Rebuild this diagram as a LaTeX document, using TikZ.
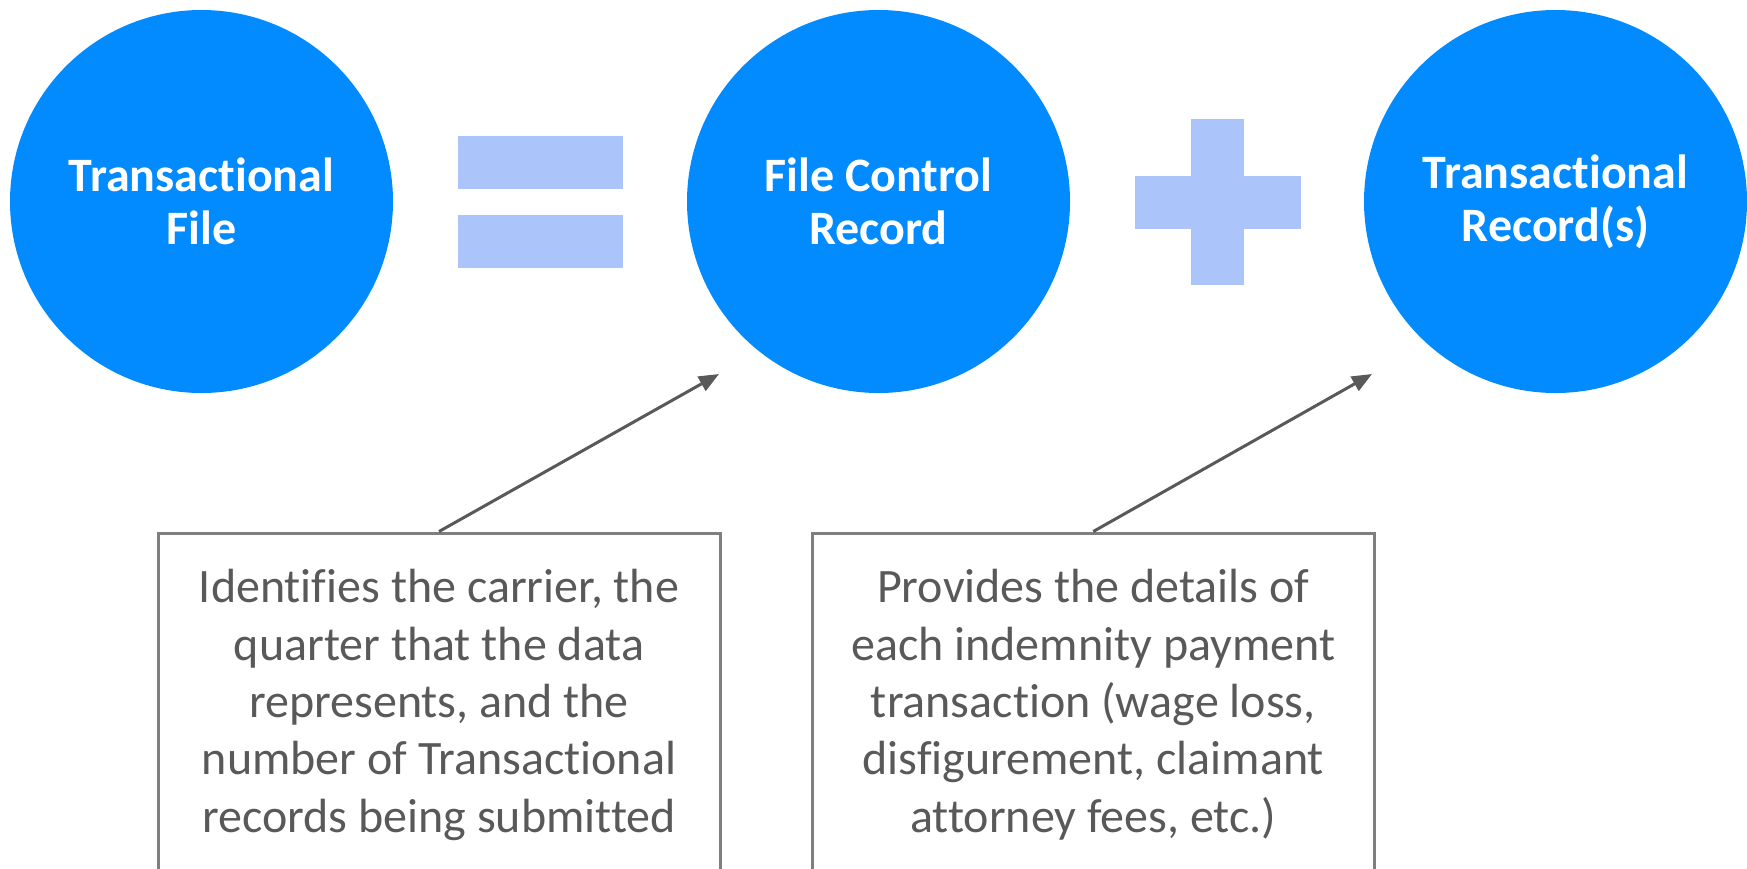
\documentclass[tikz,border=0pt]{standalone}
\usepackage{fontspec}
\setmainfont{Carlito}[RawFeature={-liga;-clig;-dlig;-calt}]
\usetikzlibrary{arrows.meta}
\definecolor{cblue}{RGB}{2,138,255}
\definecolor{lblue}{RGB}{171,197,251}
\definecolor{bgray}{RGB}{127,127,127}
\definecolor{agray}{RGB}{89,89,89}
\definecolor{tgray}{RGB}{89,89,89}
\begin{document}
\begin{tikzpicture}[x=1pt,y=-1pt,
 bubble/.style={circle,fill=cblue,draw=none,inner sep=0pt,minimum size=383pt,text=white,font=\fontsize{48}{53}\selectfont\bfseries,align=center},
 bar/.style={fill=lblue,draw=none},
 notebox/.style={draw=bgray,line width=3pt,rectangle,inner sep=0pt,minimum width=562pt,minimum height=420pt,anchor=north},
 notetext/.style={text=tgray,font=\fontsize{48}{57.3}\selectfont,align=center,anchor=base},
 pointer/.style={draw=agray,line width=3pt,-{Triangle[length=20pt,width=16pt]}}]
\useasboundingbox (0,0) rectangle (1747,868);
\clip (0,0) rectangle (1747,868);
% circles
\node[bubble] (c1) at (201.5,201.5) {Transactional\\File};
\node[bubble] (c2) at (878.5,201.5) {File Control\\Record};
\node[bubble] (c3) at (1555.5,201.5) {Transactional\\Record(s)};
% equals sign
\fill[bar] (457.6,136) rectangle (623,189);
\fill[bar] (457.6,215) rectangle (623,268);
% plus sign
\fill[bar] (1191,119) rectangle (1244,285);
\fill[bar] (1135,176) rectangle (1301,229);
% note boxes
\node[notebox] (b1) at (439,531.5) {};
\node[notebox] (b2) at (1093.25,531.5) {};
\node[notetext] (n1) at (439,832) {Identifies the carrier, the\\quarter that the data\\represents, and the\\number of Transactional\\records being submitted};
\node[notetext] (n2) at (1093.25,832) {Provides the details of\\each indemnity payment\\transaction (wage loss,\\disfigurement, claimant\\attorney fees, etc.)};
% pointers
\coordinate (t1) at (719,374);
\coordinate (t2) at (1372,374);
\draw[pointer] (b1.north) -- (t1);
\draw[pointer] (b2.north) -- (t2);
\end{tikzpicture}
\end{document}
